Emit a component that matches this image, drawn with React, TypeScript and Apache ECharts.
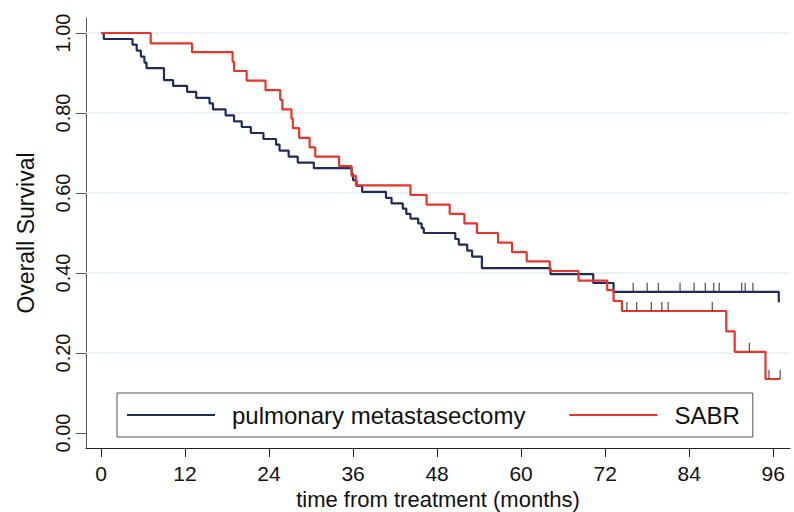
import React, { useEffect, useRef } from "react";
import * as echarts from "echarts";

// Kaplan–Meier step points [month, survival]
const pmCurve: [number, number][] = [
  [0, 1.0], [0.4, 0.985], [4.5, 0.971], [5.1, 0.956], [5.7, 0.941], [6.2, 0.926], [6.5, 0.912],
  [9.0, 0.882], [10.3, 0.868], [12.3, 0.853], [13.6, 0.838], [15.5, 0.824], [16.0, 0.809],
  [17.8, 0.794], [19.0, 0.779], [20.1, 0.765], [21.4, 0.75], [23.2, 0.735], [25.0, 0.721],
  [25.5, 0.706], [26.8, 0.691], [28.1, 0.676], [30.4, 0.662], [35.8, 0.647], [36.0, 0.632],
  [36.5, 0.618], [37.3, 0.603], [40.7, 0.588], [41.5, 0.574], [43.1, 0.561], [43.6, 0.548],
  [44.2, 0.536], [45.3, 0.524], [45.8, 0.512], [46.1, 0.5], [50.6, 0.485], [51.1, 0.471],
  [52.3, 0.456], [53.0, 0.441], [54.4, 0.412], [64.2, 0.397], [70.3, 0.375], [73.2, 0.353],
  [96.8, 0.327],
];
const sabrCurve: [number, number][] = [
  [0, 1.0], [7.1, 0.974], [13.0, 0.952], [18.8, 0.928], [19.0, 0.905], [20.8, 0.881],
  [23.5, 0.857], [25.6, 0.833], [25.9, 0.809], [27.2, 0.786], [27.4, 0.762], [28.3, 0.738],
  [29.8, 0.714], [30.6, 0.691], [34.0, 0.667], [35.8, 0.643], [36.4, 0.619], [44.2, 0.595],
  [46.5, 0.571], [49.8, 0.548], [51.9, 0.524], [53.7, 0.5], [56.7, 0.476], [58.7, 0.452],
  [60.8, 0.429], [64.1, 0.405], [68.2, 0.381], [72.3, 0.357], [73.2, 0.33], [74.4, 0.305],
  [89.3, 0.254], [90.5, 0.203], [94.9, 0.135], [97.0, 0.135],
];
// censored observations [month, survival]
const pmCensored: [number, number][] = [
  [76.0, 0.353], [78.0, 0.353], [79.6, 0.353], [82.7, 0.353], [84.7, 0.353], [86.3, 0.353],
  [87.5, 0.353], [88.3, 0.353], [91.5, 0.353], [92.0, 0.353], [93.1, 0.353],
];
const sabrCensored: [number, number][] = [
  [75.1, 0.305], [76.5, 0.305], [78.6, 0.305], [80.1, 0.305], [81.0, 0.305], [87.3, 0.305],
  [92.6, 0.203], [95.4, 0.135], [97.0, 0.135],
];
const xTicks = [0, 12, 24, 36, 48, 60, 72, 84, 96];
const yTicks = [0, 0.2, 0.4, 0.6, 0.8, 1.0];
const gridValues = [0.2, 0.4, 0.6, 0.8, 1.0];
const seriesNames = ["pulmonary metastasectomy", "SABR"];

const NAVY = "#1f2b58";
const RED = "#e8352c";
const FONT = "'Liberation Sans', Arial, sans-serif";

export default function App() {
  const ref = useRef<HTMLDivElement>(null);
  useEffect(() => {
    if (!ref.current) return;
    const chart = echarts.init(ref.current, undefined, { renderer: "svg" });
    chart.setOption({
      animation: false,
      backgroundColor: "#ffffff",
      textStyle: { fontFamily: FONT },
      grid: {
        left: 86,
        right: 4,
        top: 18,
        bottom: 64,
        containLabel: false,
        outerBoundsMode: "none",
      },
      xAxis: {
        type: "value",
        min: -2.14,
        max: 98.4,
        name: "time from treatment (months)",
        nameLocation: "middle",
        nameGap: 29,
        nameTextStyle: { fontSize: 22, color: "#111", fontFamily: FONT, lineHeight: 22 },
        axisLine: { show: true, onZero: false, lineStyle: { color: "#222", width: 1 } },
        axisTick: { show: true, customValues: xTicks, length: 9, lineStyle: { color: "#222" } },
        axisLabel: {
          customValues: xTicks,
          fontSize: 21,
          color: "#111",
          margin: 15,
          fontFamily: FONT,
        },
        splitLine: { show: false },
      },
      yAxis: {
        type: "value",
        min: -0.0375,
        max: 1.0375,
        name: "Overall Survival",
        nameLocation: "middle",
        nameGap: 49,
        nameRotate: 90,
        nameTextStyle: { fontSize: 23, color: "#111", fontFamily: FONT },
        axisLine: { show: true, onZero: false, lineStyle: { color: "#555", width: 1 } },
        axisTick: { show: true, customValues: yTicks, length: 10, lineStyle: { color: "#555" } },
        axisLabel: {
          customValues: yTicks,
          rotate: 90,
          fontSize: 20,
          color: "#111",
          margin: 13,
          fontFamily: FONT,
          formatter: (v: number) => v.toFixed(2),
        },
        splitLine: { show: false },
      },
      legend: {
        left: 117,
        top: 393,
        orient: "horizontal",
        padding: [10, 13, 10, 10],
        borderColor: "#555",
        borderWidth: 1,
        itemWidth: 88,
        itemHeight: 2,
        itemGap: 44,
        icon: "rect",
        textStyle: { fontSize: 24, color: "#111", fontFamily: FONT, padding: [0, 0, 0, 12] },
        data: seriesNames,
      },
      series: [
        {
          name: seriesNames[0],
          type: "line",
          step: "end",
          data: pmCurve,
          color: NAVY,
          symbol: "none",
          lineStyle: { color: NAVY, width: 2.2 },
          z: 3,
          markLine: {
            silent: true,
            symbol: "none",
            label: { show: false },
            lineStyle: { color: "#e6eef0", width: 1.5, type: "solid" },
            data: gridValues.map((v) => ({ yAxis: v })),
            z: 1,
          },
        },
        {
          name: seriesNames[1],
          type: "line",
          step: "end",
          data: sabrCurve,
          color: RED,
          symbol: "none",
          lineStyle: { color: RED, width: 2.2 },
          z: 4,
        },
        {
          name: "pm censored",
          type: "scatter",
          data: pmCensored,
          symbol: "rect",
          symbolSize: [1.3, 9],
          symbolOffset: [0, -4.5],
          itemStyle: { color: "#333" },
          z: 5,
        },
        {
          name: "sabr censored",
          type: "scatter",
          data: sabrCensored,
          symbol: "rect",
          symbolSize: [1.3, 9],
          symbolOffset: [0, -4.5],
          itemStyle: { color: "#333" },
          z: 5,
        },
      ],
    });
    return () => chart.dispose();
  }, []);
  return (
    <div
      ref={ref}
      style={{ position: "fixed", left: 0, top: 0, width: 794, height: 512, background: "#fff" }}
    />
  );
}
